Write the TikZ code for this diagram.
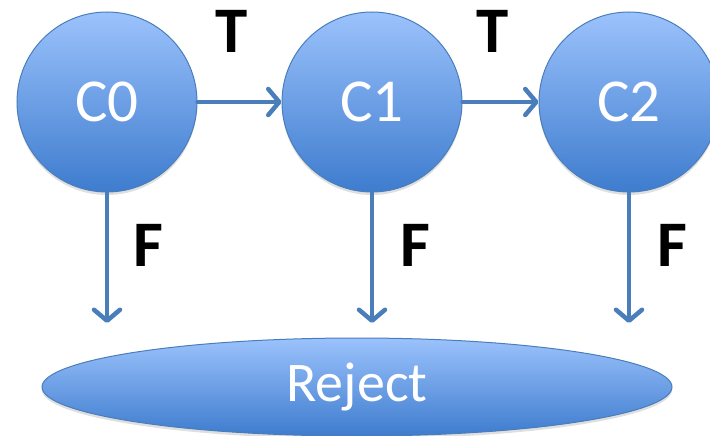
\documentclass[tikz,border=0pt]{standalone}
\usepackage{fontspec}
\setmainfont{Carlito}
\usetikzlibrary{shapes.geometric,arrows.meta,shadows}
\definecolor{topblue}{RGB}{155,194,252}
\definecolor{botblue}{RGB}{62,124,206}
\definecolor{edgeblue}{RGB}{74,126,187}
\tikzset{
  state/.style={circle, minimum size=180pt, inner sep=0pt, draw=edgeblue, line width=1pt,
    top color=topblue, bottom color=botblue, text=white,
    font=\fontsize{61}{61}\selectfont,
    drop shadow={shadow xshift=0pt, shadow yshift=-3pt, opacity=0.25}},
  rejectbox/.style={ellipse, minimum width=630pt, minimum height=98pt, inner sep=0pt, draw=edgeblue, line width=1pt,
    top color=topblue, bottom color=botblue, text=white,
    font=\fontsize{56}{56}\selectfont,
    drop shadow={shadow xshift=0pt, shadow yshift=-3pt, opacity=0.25}},
  flow/.style={draw=edgeblue, line width=4.5pt, line cap=round,
    -{Straight Barb[length=11pt, width=26pt, line cap=round, line join=round]}},
  lbl/.style={font=\fontsize{65}{65}\selectfont\bfseries, text=black, inner sep=0pt}
}
\begin{document}
\begin{tikzpicture}[x=1pt,y=-1pt]
\useasboundingbox (0,0) rectangle (710,436);
\node[state] (c0) at (107,102) {C0};
\node[state] (c1) at (372,102) {C1};
\node[state] (c2) at (629,102) {C2};
\node[rejectbox] (rej) at (357,387) {Reject};
\coordinate (e0) at (107,323);
\coordinate (e1) at (372,323);
\coordinate (e2) at (629,323);
\draw[flow] (c0.east) -- (c1.west);
\draw[flow] (c1.east) -- (c2.west);
\draw[flow] (c0.south) -- (e0);
\draw[flow] (c1.south) -- (e1);
\draw[flow] (c2.south) -- (e2);
\node[lbl] (t0) at (232,31) {T};
\node[lbl] (t1) at (493,31) {T};
\node[lbl] (f0) at (148,245) {F};
\node[lbl] (f1) at (415,245) {F};
\node[lbl] (f2) at (672,245) {F};
\end{tikzpicture}
\end{document}
